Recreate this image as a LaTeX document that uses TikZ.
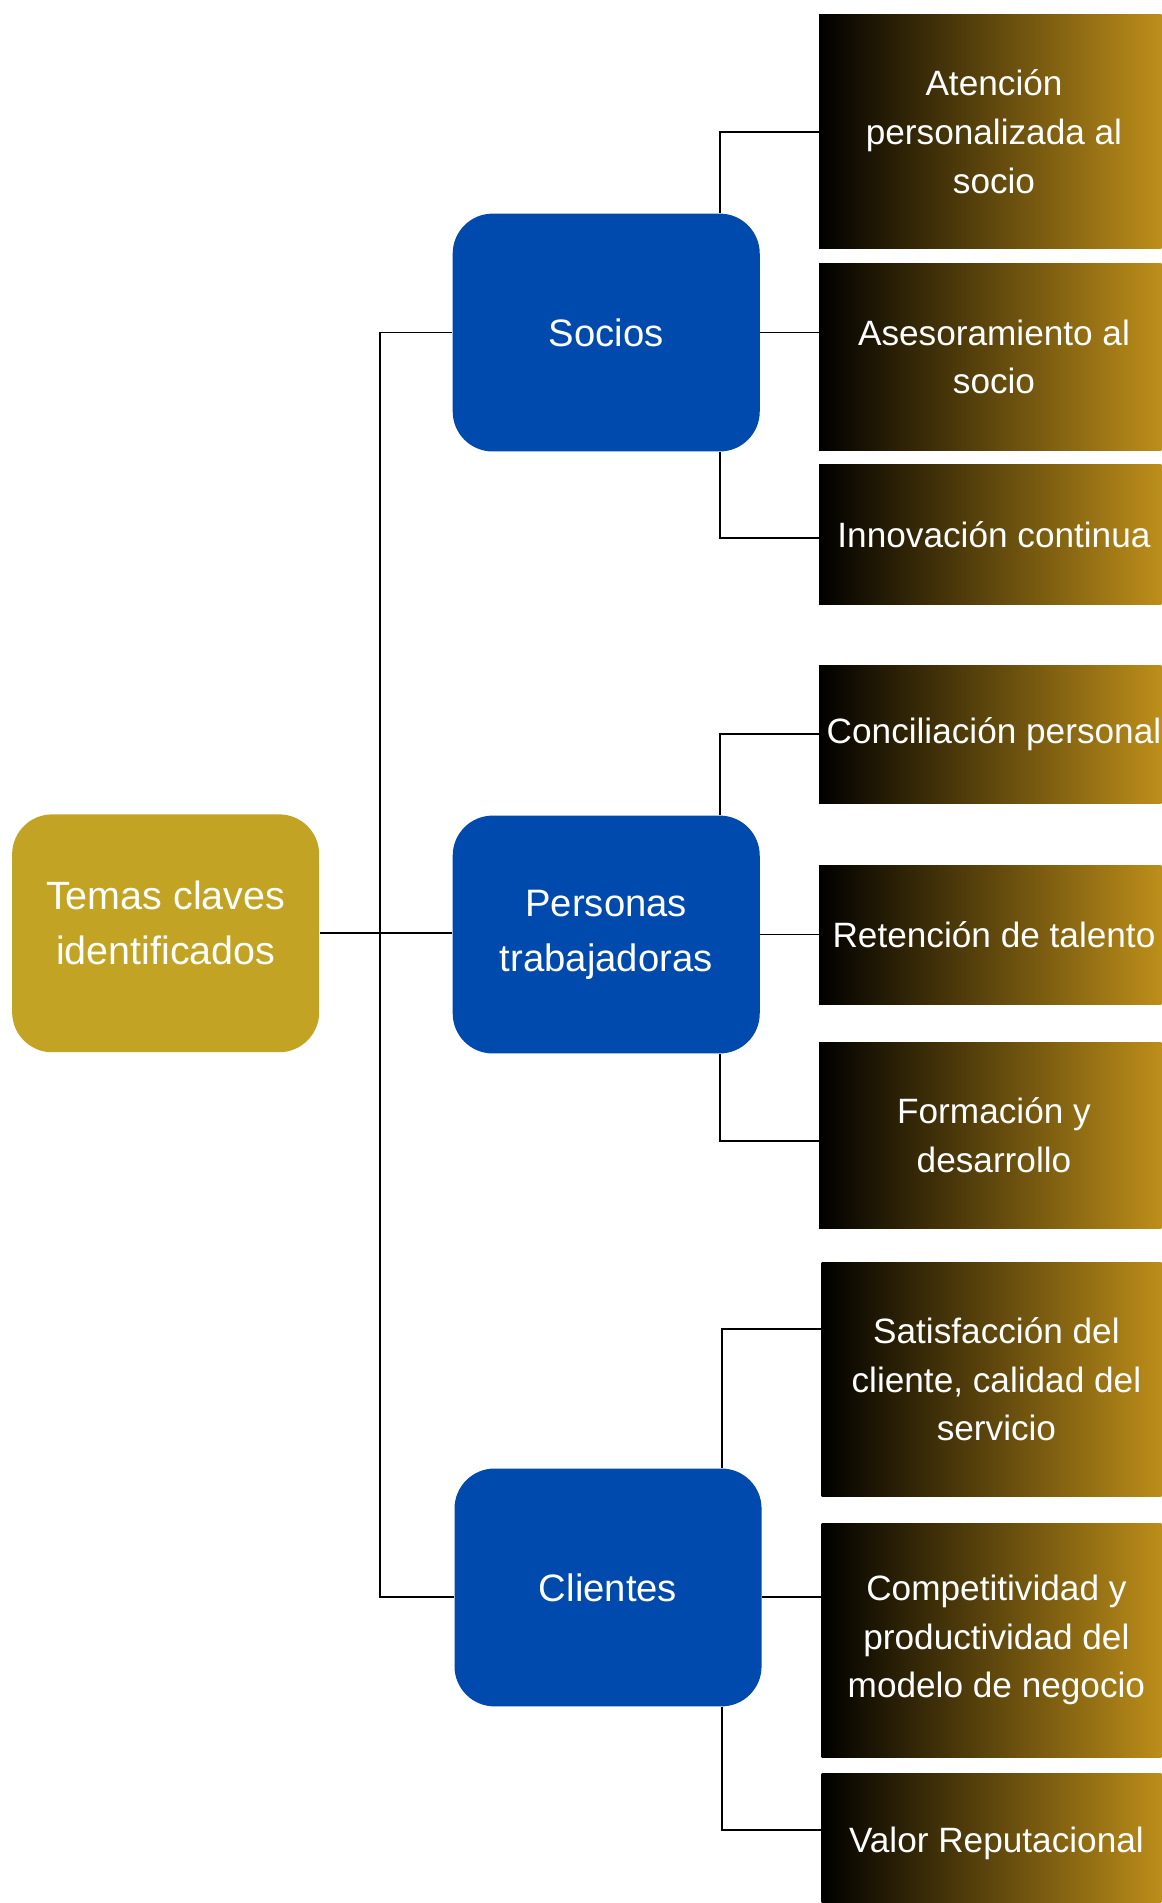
\documentclass[tikz,border=0pt]{standalone}
\usepackage{fontspec}
\setmainfont{Liberation Sans}
\definecolor{rootgold}{HTML}{C2A324}
\definecolor{nodeblue}{HTML}{004AAD}
\definecolor{gradgold}{HTML}{C1911A}
\begin{document}
\begin{tikzpicture}[x=0.5pt,y=-0.5pt,
  mainbox/.style={rounded corners=16.5pt, minimum width=126.5pt, minimum height=98pt,
    text=white, align=center, inner sep=0pt, font=\fontsize{15.75}{22.5}\selectfont},
  rootbox/.style={mainbox, fill=rootgold, font=\fontsize{16.25}{22.5}\selectfont},
  catbox/.style={mainbox, fill=nodeblue},
  topicbox/.style={left color=black, right color=gradgold, minimum width=144pt,
    text=white, align=center, inner sep=0pt, font=\fontsize{14.5}{20}\selectfont},
  link/.style={draw=black, line width=0.7pt}]
\useasboundingbox (0,0) rectangle (957,1568);
\clip (0,0) rectangle (957,1568);
\fill[white] (0,0) rectangle (957,1568);

% main nodes
\node[rootbox] (root) at (136.5,769) {Temas claves\\identificados\\[-14pt]\mbox{}};
\node[catbox] (socios) at (499.5,274) {Socios};
\node[catbox] (personas) at (499.5,770) {Personas\\trabajadoras};
\node[catbox] (clientes) at (501,1308) {Clientes};

% topic boxes
\node[topicbox, minimum height=96.5pt] (a1) at (819,108.5) {Atención\\personalizada al\\socio};
\node[topicbox, minimum height=77pt] (a2) at (819,294) {Asesoramiento al\\socio};
\node[topicbox, minimum height=57.5pt] (a3) at (819,440.5) {Innovación continua};
\node[topicbox, minimum height=57pt] (b1) at (819,605) {Conciliación personal};
\node[topicbox, minimum height=57.5pt] (b2) at (819,770.5) {Retención de talento};
\node[topicbox, minimum height=76.5pt] (b3) at (819,935.5) {Formación y\\desarrollo};
\node[topicbox, minimum height=96.5pt] (c1) at (821,1136.5) {Satisfacción del\\cliente, calidad del\\servicio};
\node[topicbox, minimum height=96.5pt] (c2) at (821,1351.5) {Competitividad y\\productividad del\\modelo de negocio};
\node[topicbox, minimum height=57.5pt] (c3) at (821,1518.5) {Valor Reputacional};

% trunk
\coordinate (tS) at (313,274);
\coordinate (tC) at (313,1316);
\draw[link] (root.east) -- (root.east -| personas.west);
\draw[link] (socios.west) -- (tS) -- (tC) -- (tC -| clientes.west);

% socios branches
\coordinate (jS) at (593,0);
\draw[link] (jS |- socios.north) |- (a1.west);
\draw[link] (socios.east) -- (socios.east -| a2.west);
\draw[link] (jS |- socios.south) |- ([yshift=-1.25pt]a3.west);

% personas branches
\coordinate (jP) at (593,0);
\draw[link] (jP |- personas.north) |- (b1.west);
\draw[link] (personas.east) -- (personas.east -| b2.west);
\draw[link] (jP |- personas.south) |- ([yshift=-2.25pt]b3.west);

% clientes branches
\coordinate (jC) at (595,0);
\draw[link] (jC |- clientes.north) |- ([yshift=20.75pt]c1.west);
\draw[link] ([yshift=-4pt]clientes.east) -- ([yshift=-4pt]clientes.east -| c2.west);
\draw[link] (jC |- clientes.south) |- ([yshift=5.25pt]c3.west);
\end{tikzpicture}
\end{document}
